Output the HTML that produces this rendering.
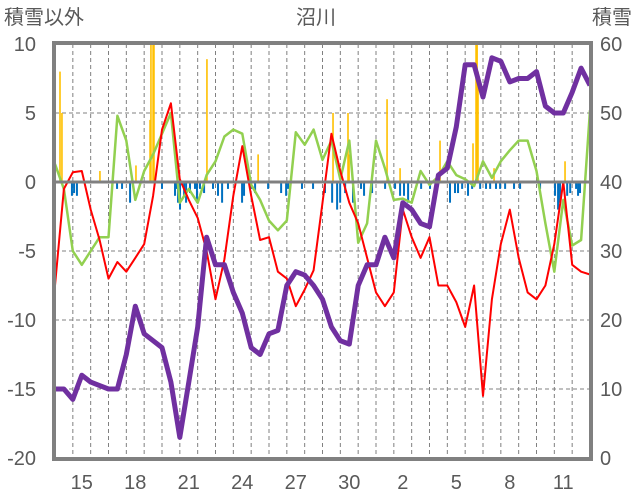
<!DOCTYPE html>
<html><head><meta charset="utf-8"><style>
body{margin:0;background:#fff;}
svg{display:block;font-family:"Liberation Sans","Noto Sans CJK JP",sans-serif;}
</style></head><body>
<svg id="chart" width="636" height="501" viewBox="0 0 636 501" xmlns="http://www.w3.org/2000/svg">
<g id="grid"></g>
<g id="bars"></g>
<g id="lines"></g>
<g id="frame"></g>
<g id="labels" fill="#595959" font-size="20"></g>
<text x="4" y="24" font-size="20" fill="#595959">積雪以外</text>
<text x="316" y="24" font-size="20" fill="#595959" text-anchor="middle">沼川</text>
<text x="632" y="24" font-size="20" fill="#595959" text-anchor="end">積雪</text>
</svg>
<script>
const leftTicks = [10, 5, 0, -5, -10, -15, -20];
const rightTicks = [60, 50, 40, 30, 20, 10, 0];
const dateLabels = ["15","18","21","24","27","30","2","5","8","11"];
const dateLabelDays = [1,4,7,10,13,16,19,22,25,28];
const numDays = 30;
const sampleStep = 0.5;
const depth = [10,10,8.5,12,11,10.5,10,10,15,22,18,17,16,11,3,11,19,32,28,28,24,21,16,15,18,18.5,25,27,26.5,25,23,19,17,16.5,25,28,28,32,29,37,36,34,33.5,41,42,48,57,57,52.3,58,57.5,54.5,55,55,56,51,50,50,53,56.5,54];
const temp = [-7.5,-0.5,0.7,0.8,-2,-4.2,-7,-5.8,-6.5,-5.5,-4.5,-1,3.8,5.7,0.2,-1.3,-2.6,-5,-8.5,-5.6,-1,2.6,-1,-4.2,-4,-6.5,-7,-9,-7.8,-6.4,-1.5,3.5,0.8,-1.5,-3,-5.5,-8,-9,-8,-2,-4,-5.5,-4,-7.5,-7.5,-8.7,-10.5,-7.5,-15.5,-8.5,-4.5,-2,-5.5,-8,-8.5,-7.5,-4.5,0,-6,-6.5,-6.7];
const other = [1.3,-0.5,-5,-6,-5,-4,-4,4.8,3,-1.3,0.8,2,3.5,5,-1.5,-0.5,-1.5,0.5,1.5,3.3,3.8,3.5,-0.2,-1.3,-2.8,-3.5,-2.8,3.6,2.7,3.8,1.6,3,0.2,3,-4.4,-3,3,1,-1.3,-1.2,-1.5,0.8,-0.2,0.4,1.5,0.5,0.2,-0.3,1.5,0.3,1.5,2.3,3,3,0.8,-3,-6.5,-1.3,-4.6,-4.2,5.2];
const snowDays = [0.28,0.39,2.52,4.54,5.33,5.38,5.5,5.55,8.52,11.39,15.59,16.43,16.49,18.62,19.35,21.59,23.44,23.61,23.67,23.72,24.62,28.6];
const snowVals = [8,5,0.8,1.2,4.5,10,10,10,8.9,2,5,5,2,6,1,3,2.8,10,10,8,1,1.5];
const meltDays = [0.95,1.07,1.23,3.48,3.76,4.21,6.0,6.73,6.79,6.9,7.01,7.24,7.35,7.57,7.85,7.96,8.13,8.36,8.86,9.14,9.37,9.7,10.49,10.6,10.99,11.22,11.95,12.68,12.96,13.07,13.85,14.47,15.14,15.54,15.82,15.99,16.27,16.71,17.16,17.33,17.78,18.51,19.07,19.35,19.57,19.8,20.53,21.03,21.37,22.15,22.43,22.6,22.83,23.16,23.39,23.84,24.17,24.4,24.73,24.96,25.24,25.74,26.08,27.2,28.04,28.21,28.32,28.49,28.72,28.89,29.22,29.33,29.44];
const meltVals = [-1,-0.8,-1,-0.5,-0.5,-1.5,-0.5,-1,-0.5,-1.5,-2,-1,-1.5,-0.8,-0.5,-1.5,-0.5,-0.8,-0.5,-1,-1.5,-0.5,-1.5,-1,-0.5,-0.8,-0.5,-0.8,-1,-0.5,-0.5,-0.5,-0.8,-1.5,-2,-1.5,-0.8,-1.5,-0.5,-1,-0.8,-0.5,-0.5,-1,-1,-1.5,-0.5,-0.5,-0.5,-1.5,-0.8,-0.8,-0.5,-1,-0.5,-0.5,-0.5,-0.5,-0.5,-0.5,-0.5,-0.5,-0.5,-0.5,-1,-2,-1.5,-0.5,-1,-0.8,-0.5,-1,-0.8];

const NS = "http://www.w3.org/2000/svg";
const X0 = 55, X1 = 590, Y0 = 44, Y1 = 458;
const x = d => X0 + d * (X1 - X0) / numDays;
const yL = v => Y1 - (v + 20) * (Y1 - Y0) / 30;
const yR = v => Y1 - v * (Y1 - Y0) / 60;
function mk(tag, attrs, parent) {
  const e = document.createElementNS(NS, tag);
  for (const k in attrs) e.setAttribute(k, attrs[k]);
  parent.appendChild(e);
  return e;
}
const grid = document.getElementById('grid');
for (let d = 1; d < numDays; d++) {
  const l = mk('line', {x1: x(d), x2: x(d), y1: Y0, y2: Y1, stroke: '#808080', 'stroke-width': 1, 'stroke-dasharray': '4,3'}, grid);
  
  
}
[5, -5, -10, -15].forEach(v => {
  const l = mk('line', {x1: X0, x2: X1, y1: yL(v), y2: yL(v), stroke: '#808080', 'stroke-width': 1, 'stroke-dasharray': '4,3'}, grid);
  
  
});
const bars = document.getElementById('bars');
snowDays.forEach((d, i) => {
  const b = mk('rect', {x: x(d) - 0.8, y: yL(snowVals[i]), width: 1.6, height: yL(0) - yL(snowVals[i]), fill: '#ffc000'}, bars);
  
  
});
meltDays.forEach((d, i) => {
  const b = mk('rect', {x: x(d) - 1, y: yL(0), width: 2, height: yL(meltVals[i]) - yL(0), fill: '#0070c0'}, bars);
  
  
});
const lines = document.getElementById('lines');
function series(arr, yf, color, w, name) {
  const pts = arr.map((v, i) => x(i * sampleStep).toFixed(1) + ',' + yf(v).toFixed(1)).join(' ');
  const p = mk('polyline', {points: pts, fill: 'none', stroke: color, 'stroke-width': w, 'stroke-linejoin': 'round'}, lines);
  
  
}
series(other, yL, '#92d050', 2.5, 'green-series-line');
series(temp, yL, '#ff0000', 2, 'temperature-line');
series(depth, yR, '#7030a0', 5, 'snow-depth-line');
const frame = document.getElementById('frame');
const zl = mk('line', {x1: X0, x2: X1, y1: yL(0), y2: yL(0), stroke: '#808080', 'stroke-width': 3}, frame);


const fr = mk('rect', {x: X0 - 1, y: Y0 - 1, width: X1 - X0 + 2, height: Y1 - Y0 + 2, fill: 'none', stroke: '#808080', 'stroke-width': 4}, frame);


const labels = document.getElementById('labels');
leftTicks.forEach(v => {
  const t = mk('text', {x: 36, y: yL(v) + 7, 'text-anchor': 'end'}, labels);
  t.textContent = v;
  
  
});
rightTicks.forEach(v => {
  const t = mk('text', {x: 600, y: yR(v) + 7, 'text-anchor': 'start'}, labels);
  t.textContent = v;
  
  
});
dateLabels.forEach((s, i) => {
  const t = mk('text', {x: x(dateLabelDays[i] + 0.5), y: 489, 'text-anchor': 'middle'}, labels);
  t.textContent = s;
  
  
});
</script>
</body></html>
